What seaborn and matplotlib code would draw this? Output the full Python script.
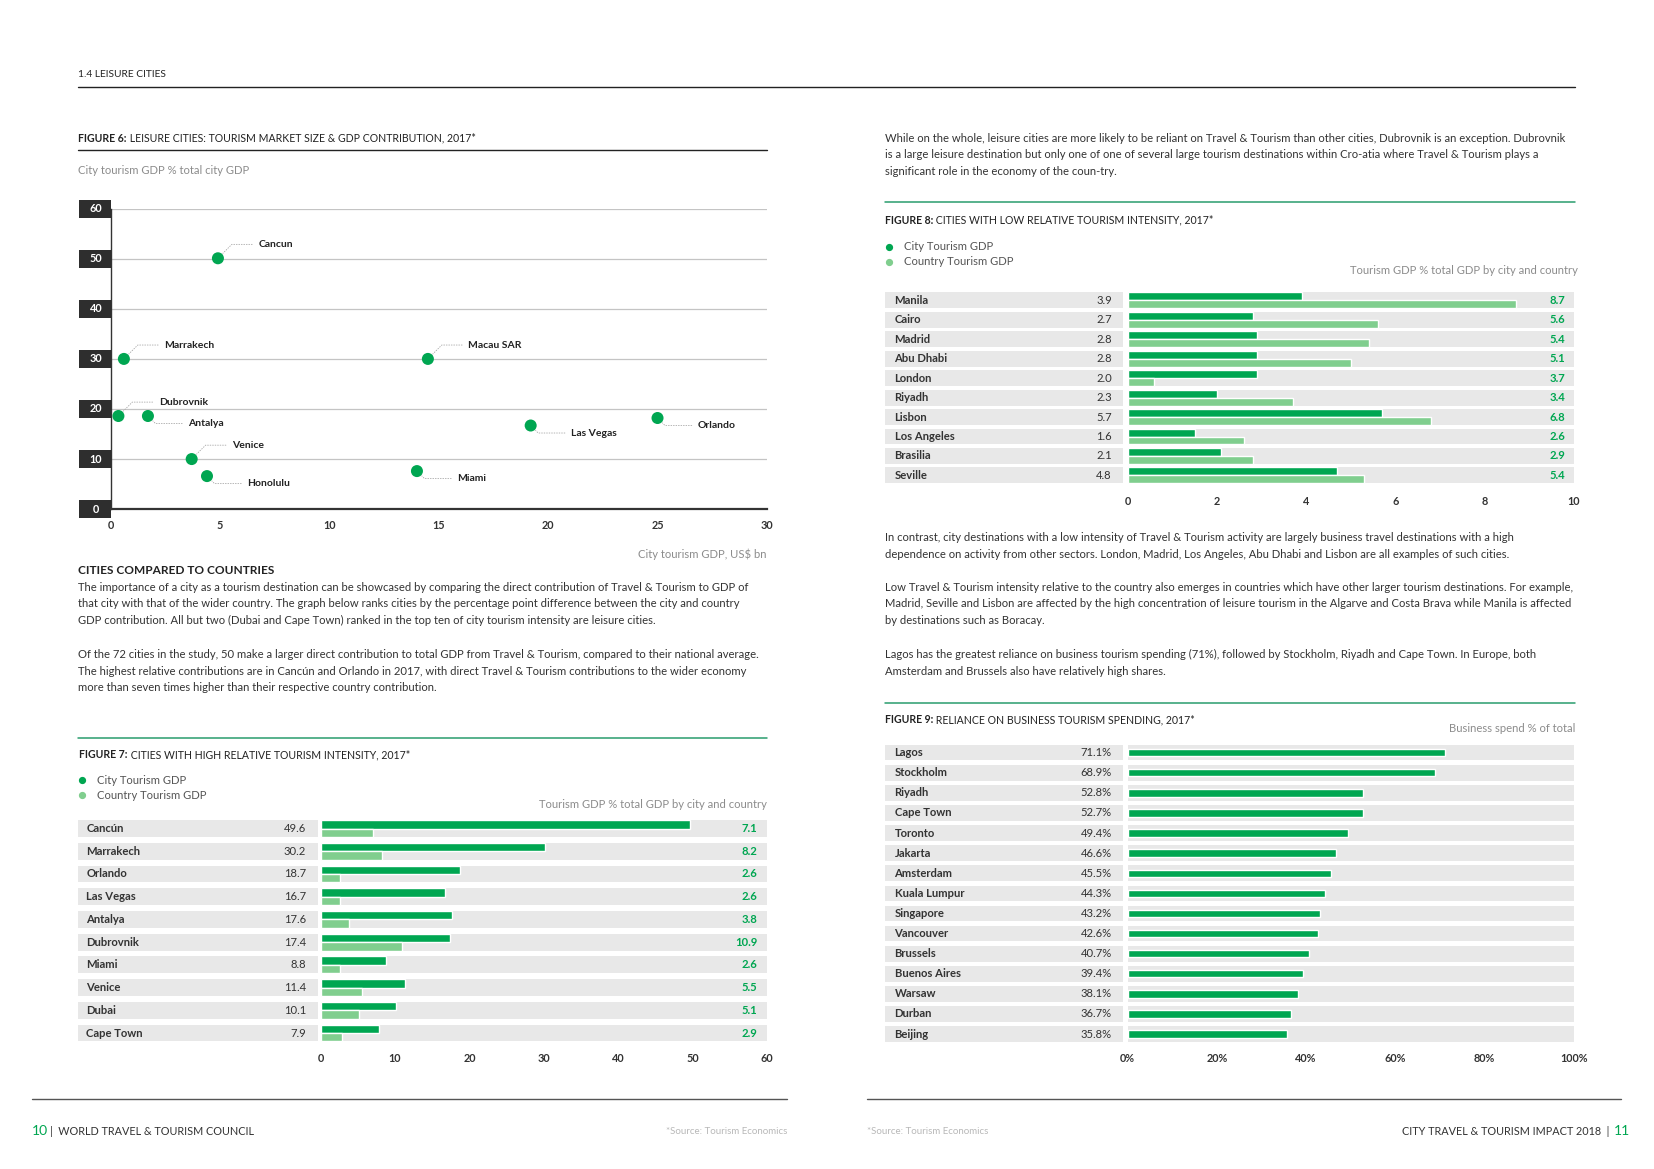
import matplotlib
matplotlib.use('Agg')
import matplotlib.pyplot as plt
import matplotlib.transforms as mtransforms
from matplotlib.patches import Rectangle
import pandas as pd
import seaborn as sns

# ---- data -------------------------------------------------------------
# Figure 6: scatter (city tourism GDP US$ bn vs % of city GDP)
fig6_cities = ['Cancun', 'Marrakech', 'Macau SAR', 'Dubrovnik', 'Antalya',
               'Venice', 'Honolulu', 'Miami', 'Las Vegas', 'Orlando']
fig6_gdp_bn = [4.9, 0.6, 14.5, 0.35, 1.7, 3.7, 4.4, 14.0, 19.2, 25.0]
fig6_gdp_pct = [50.1, 30.0, 30.0, 18.6, 18.6, 10.0, 6.6, 7.6, 16.7, 18.2]
fig6_label_side = ['up', 'up', 'up', 'up', 'down', 'up', 'down', 'down', 'down', 'down']

# Figure 7: high relative tourism intensity
fig7_cities = ['Cancún', 'Marrakech', 'Orlando', 'Las Vegas', 'Antalya',
               'Dubrovnik', 'Miami', 'Venice', 'Dubai', 'Cape Town']
fig7_city = [49.6, 30.2, 18.7, 16.7, 17.6, 17.4, 8.8, 11.4, 10.1, 7.9]
fig7_country = [7.1, 8.2, 2.6, 2.6, 3.8, 10.9, 2.6, 5.5, 5.1, 2.9]

# Figure 8: low relative tourism intensity (bars as drawn, labels as printed)
fig8_cities = ['Manila', 'Cairo', 'Madrid', 'Abu Dhabi', 'London',
               'Riyadh', 'Lisbon', 'Los Angeles', 'Brasilia', 'Seville']
fig8_city_bar = [3.9, 2.8, 2.9, 2.9, 2.9, 2.0, 5.7, 1.5, 2.1, 4.7]
fig8_country_bar = [8.7, 5.6, 5.4, 5.0, 0.6, 3.7, 6.8, 2.6, 2.8, 5.3]
fig8_city_label = ['3.9', '2.7', '2.8', '2.8', '2.0', '2.3', '5.7', '1.6', '2.1', '4.8']
fig8_country_label = ['8.7', '5.6', '5.4', '5.1', '3.7', '3.4', '6.8', '2.6', '2.9', '5.4']

# Figure 9: business spend share
fig9_cities = ['Lagos', 'Stockholm', 'Riyadh', 'Cape Town', 'Toronto', 'Jakarta',
               'Amsterdam', 'Kuala Lumpur', 'Singapore', 'Vancouver', 'Brussels',
               'Buenos Aires', 'Warsaw', 'Durban', 'Beijing']
fig9_share = [71.1, 68.9, 52.8, 52.7, 49.4, 46.6, 45.5, 44.3, 43.2, 42.6,
              40.7, 39.4, 38.1, 36.7, 35.8]

# ---- style ------------------------------------------------------------
sns.set_theme(style='white')
plt.rcParams['font.family'] = ['Lato', 'DejaVu Sans']

GREEN = '#00a651'
LIGHT = '#80ce8e'
BAND = '#e8e8e8'
DARK = '#333333'
GREY = '#8c8c8c'
RULE = '#2a9d6e'

BODY = 8.1
TITLE = 7.6
LABEL = 8.1
TICK = 7.8

W, H = 1568.0, 1109.0  # reference layout grid


def fx(px):
    return px / W


def fy(py):
    return 1 - py / H


fig = plt.figure(figsize=(16.54, 11.69), dpi=100)
renderer = fig.canvas.get_renderer()


def add_axes_px(left, top, right, bottom):
    return fig.add_axes([fx(left), fy(bottom), fx(right) - fx(left), fy(top) - fy(bottom)])


def hline(x0, x1, y, color, lw):
    fig.add_artist(plt.Line2D([fx(x0), fx(x1)], [fy(y), fy(y)], color=color, lw=lw,
                              transform=fig.transFigure))


def ftext(x, y, s, **kw):
    kw.setdefault('fontsize', BODY)
    kw.setdefault('color', DARK)
    kw.setdefault('va', 'center')
    return fig.text(fx(x), fy(y), s, **kw)


def fig_title(x, y, bold, rest):
    t = ftext(x, y, bold, fontsize=TITLE, fontweight='bold', color='#222222')
    bb = t.get_window_extent(renderer)
    fig.text(bb.x1 / fig.bbox.width, fy(y), rest, fontsize=TITLE,
             color='#222222', va='center')


def paragraph(x, y0, lines, step=15.8, **kw):
    for i, line in enumerate(lines):
        ftext(x, y0 + i * step, line, **kw)


def legend(x, y):
    for i, (c, name) in enumerate([(GREEN, 'City Tourism GDP'), (LIGHT, 'Country Tourism GDP')]):
        fig.add_artist(plt.Line2D([fx(x)], [fy(y + i * 14.5)], marker='o', ms=4.2, color=c,
                                  transform=fig.transFigure, lw=0))
        ftext(x + 14, y + i * 14.5, name, color='#555555')


def row_bands(ax, n, band, left_px, right_px, xmax):
    blend = mtransforms.blended_transform_factory(fig.transFigure, ax.transData)
    for i in range(n):
        ax.add_patch(Rectangle((fx(left_px), i - band / 2), fx(right_px) - fx(left_px), band,
                               transform=blend, color=BAND, clip_on=False, lw=0, zorder=0))
    ax.barh(range(n), [xmax] * n, height=band, color=BAND, lw=0, zorder=0)
    return blend


def style_bar_axes(ax, n, xmax, ticks, ticklabels, pad):
    ax.set_xlim(0, xmax)
    ax.set_ylim(n - 0.5, -0.5)
    ax.set_yticks([])
    ax.set_xticks(ticks)
    ax.set_xticklabels(ticklabels)
    ax.tick_params(axis='x', length=0, pad=pad, labelsize=TICK, labelcolor=DARK)
    for lab in ax.get_xticklabels():
        lab.set_fontweight('bold')
    ax.set_xlabel('')
    ax.set_ylabel('')
    for s in ax.spines.values():
        s.set_visible(False)
    ax.patch.set_alpha(0)


# ---- header -----------------------------------------------------------
ftext(74, 71, '1.4 LEISURE CITIES', fontsize=7.4, color='#222222')
hline(74, 1493, 83, '#222222', 1.0)

# ---- Figure 6 ---------------------------------------------------------
fig_title(74, 131, 'FIGURE 6:', ' LEISURE CITIES: TOURISM MARKET SIZE & GDP CONTRIBUTION, 2017*')
hline(74, 727, 142, '#222222', 1.0)
ftext(74, 162, 'City tourism GDP % total city GDP', color=GREY)

ax6 = add_axes_px(105, 198, 727, 483)
df6 = pd.DataFrame({'city': fig6_cities, 'bn': fig6_gdp_bn, 'pct': fig6_gdp_pct})
for v in range(10, 61, 10):
    ax6.axhline(v, color='#c4c4c4', lw=0.9, zorder=0)
sns.scatterplot(data=df6, x='bn', y='pct', ax=ax6, color=GREEN, s=75, edgecolor='none',
                zorder=3, clip_on=False)
ax6.set_xlim(0, 30)
ax6.set_ylim(0, 60)
for s in ['top', 'right']:
    ax6.spines[s].set_visible(False)
ax6.spines['left'].set_color(DARK)
ax6.spines['left'].set_linewidth(1.0)
ax6.spines['bottom'].set_color(DARK)
ax6.spines['bottom'].set_linewidth(1.6)
ax6.set_xticks(range(0, 31, 5))
ax6.tick_params(axis='x', length=0, pad=7.5, labelsize=TICK, labelcolor=DARK)
for lab in ax6.get_xticklabels():
    lab.set_fontweight('bold')
ax6.set_yticks([])
ax6.set_xlabel('')
ax6.set_ylabel('')
ax6.patch.set_alpha(0)

blend6 = mtransforms.blended_transform_factory(fig.transFigure, ax6.transData)
for v in range(0, 61, 10):
    ax6.add_patch(Rectangle((fx(75), v - 1.8), fx(105) - fx(75), 3.6, transform=blend6,
                            color='#2e2e2e', clip_on=False, lw=0, zorder=2))
    ax6.text(fx(91), v, str(v), transform=blend6, ha='center', va='center', color='white',
             fontsize=TICK, fontweight='bold', clip_on=False)

for name, xv, yv, side in zip(fig6_cities, fig6_gdp_bn, fig6_gdp_pct, fig6_label_side):
    dy = 10.0 if side == 'up' else -5.4
    ax6.annotate(name, xy=(xv, yv), xytext=(29, dy), textcoords='offset points',
                 ha='left', va='center', fontsize=7.5, fontweight='bold', color='#222222',
                 arrowprops=dict(arrowstyle='-', color='#a8a8a8', lw=0.6, linestyle=(0, (1, 2)),
                                 shrinkA=2, shrinkB=5, relpos=(0, 0.5),
                                 connectionstyle='angle,angleA=0,angleB=%d'
                                 % (45 if side == 'up' else -45)))

ftext(727, 526, 'City tourism GDP, US$ bn', color=GREY, ha='right')

# ---- left page text ---------------------------------------------------
ftext(74, 541, 'CITIES COMPARED TO COUNTRIES', fontsize=8.6, fontweight='bold', color='#222222')
paragraph(74, 557, [
    'The importance of a city as a tourism destination can be showcased by comparing the direct contribution of Travel & Tourism to GDP of',
    'that city with that of the wider country. The graph below ranks cities by the percentage point difference between the city and country',
    'GDP contribution. All but two (Dubai and Cape Town) ranked in the top ten of city tourism intensity are leisure cities.',
])
paragraph(74, 621, [
    'Of the 72 cities in the study, 50 make a larger direct contribution to total GDP from Travel & Tourism, compared to their national average.',
    'The highest relative contributions are in Cancún and Orlando in 2017, with direct Travel & Tourism contributions to the wider economy',
    'more than seven times higher than their respective country contribution.',
])

# ---- Figure 7 ---------------------------------------------------------
hline(74, 727, 700, RULE, 1.1)
fig_title(75, 716, 'FIGURE 7:', ' CITIES WITH HIGH RELATIVE TOURISM INTENSITY, 2017*')
legend(78, 740)
ftext(727, 763, 'Tourism GDP % total GDP by city and country', color=GREY, ha='right')

sp7 = (980 - 786) / 9
ax7 = add_axes_px(304, 786 - sp7 / 2, 727, 980 + sp7 / 2)
df7 = pd.DataFrame({'city': fig7_cities * 2, 'value': fig7_city + fig7_country,
                    'series': ['City'] * 10 + ['Country'] * 10})
sns.barplot(data=df7, y='city', x='value', hue='series', orient='h', ax=ax7,
            palette=[GREEN, LIGHT], width=0.74, gap=0, saturation=1, legend=False,
            errorbar=None, zorder=2)
blend7 = row_bands(ax7, 10, 0.74, 74, 301, 60)
style_bar_axes(ax7, 10, 60, range(0, 61, 10), [str(v) for v in range(0, 61, 10)], 6.5)
for i, name in enumerate(fig7_cities):
    ax7.text(fx(82), i, name, transform=blend7, ha='left', va='center', fontsize=LABEL,
             fontweight='bold', color=DARK)
    ax7.text(fx(290), i, f'{fig7_city[i]:.1f}', transform=blend7, ha='right', va='center',
             fontsize=LABEL, color=DARK)
    ax7.text(fx(718), i, f'{fig7_country[i]:.1f}', transform=blend7, ha='right', va='center',
             fontsize=LABEL, fontweight='bold', color=GREEN)

# ---- right page text --------------------------------------------------
paragraph(839, 131, [
    'While on the whole, leisure cities are more likely to be reliant on Travel & Tourism than other cities, Dubrovnik is an exception. Dubrovnik',
    'is a large leisure destination but only one of one of several large tourism destinations within Cro-atia where Travel & Tourism plays a',
    'significant role in the economy of the coun-try.',
])

# ---- Figure 8 ---------------------------------------------------------
hline(839, 1493, 192, RULE, 1.1)
fig_title(839, 209, 'FIGURE 8:', ' CITIES WITH LOW RELATIVE TOURISM INTENSITY, 2017*')
legend(843, 234)
ftext(1496, 257, 'Tourism GDP % total GDP by city and country', color=GREY, ha='right')

sp8 = (451 - 285) / 9
ax8 = add_axes_px(1069, 285 - sp8 / 2, 1492, 451 + sp8 / 2)
df8 = pd.DataFrame({'city': fig8_cities * 2, 'value': fig8_city_bar + fig8_country_bar,
                    'series': ['City'] * 10 + ['Country'] * 10})
sns.barplot(data=df8, y='city', x='value', hue='series', orient='h', ax=ax8,
            palette=[GREEN, LIGHT], width=0.82, gap=0, saturation=1, legend=False,
            errorbar=None, zorder=2)
blend8 = row_bands(ax8, 10, 0.82, 839, 1065, 10)
style_bar_axes(ax8, 10, 10, range(0, 11, 2), [str(v) for v in range(0, 11, 2)], 7.5)
for i, name in enumerate(fig8_cities):
    ax8.text(fx(848), i, name, transform=blend8, ha='left', va='center', fontsize=LABEL,
             fontweight='bold', color=DARK)
    ax8.text(fx(1054), i, fig8_city_label[i], transform=blend8, ha='right', va='center',
             fontsize=LABEL, color=DARK)
    ax8.text(fx(1484), i, fig8_country_label[i], transform=blend8, ha='right', va='center',
             fontsize=LABEL, fontweight='bold', color=GREEN)

paragraph(839, 510, [
    'In contrast, city destinations with a low intensity of Travel & Tourism activity are largely business travel destinations with a high',
    'dependence on activity from other sectors. London, Madrid, Los Angeles, Abu Dhabi and Lisbon are all examples of such cities.',
])
paragraph(839, 557, [
    'Low Travel & Tourism intensity relative to the country also emerges in countries which have other larger tourism destinations. For example,',
    'Madrid, Seville and Lisbon are affected by the high concentration of leisure tourism in the Algarve and Costa Brava while Manila is affected',
    'by destinations such as Boracay.',
])
paragraph(839, 621, [
    'Lagos has the greatest reliance on business tourism spending (71%), followed by Stockholm, Riyadh and Cape Town. In Europe, both',
    'Amsterdam and Brussels also have relatively high shares.',
])

# ---- Figure 9 ---------------------------------------------------------
hline(839, 1493, 667, RULE, 1.1)
fig_title(839, 683, 'FIGURE 9:', ' RELIANCE ON BUSINESS TOURISM SPENDING, 2017*')
ftext(1493, 691, 'Business spend % of total', color=GREY, ha='right')

sp9 = (981 - 714) / 14
ax9 = add_axes_px(1069, 714 - sp9 / 2, 1492, 981 + sp9 / 2)
df9 = pd.DataFrame({'city': fig9_cities, 'share': fig9_share})
sns.barplot(data=df9, y='city', x='share', orient='h', ax=ax9, color=GREEN, width=0.37,
            saturation=1, errorbar=None, zorder=2)
blend9 = row_bands(ax9, 15, 0.78, 839, 1065, 100)
style_bar_axes(ax9, 15, 100, range(0, 101, 20), [f'{v}%' for v in range(0, 101, 20)], 6.5)
for i, name in enumerate(fig9_cities):
    ax9.text(fx(848), i, name, transform=blend9, ha='left', va='center', fontsize=LABEL,
             fontweight='bold', color=DARK)
    ax9.text(fx(1054), i, f'{fig9_share[i]:.1f}%', transform=blend9, ha='right', va='center',
             fontsize=LABEL, color=DARK)

# ---- footers ----------------------------------------------------------
hline(30, 746, 1043, '#555555', 1.0)
hline(822, 1537, 1043, '#555555', 1.0)
ftext(30, 1073, '10', fontsize=10, color=GREEN)
ftext(47, 1073, '|  WORLD TRAVEL & TOURISM COUNCIL', fontsize=7.8, color='#333333')
ftext(746, 1073, '*Source: Tourism Economics', fontsize=7.0, color='#b8b8b8', ha='right')
ftext(822, 1073, '*Source: Tourism Economics', fontsize=7.0, color='#b8b8b8')
ftext(1526, 1073, 'CITY TRAVEL & TOURISM IMPACT 2018  |', fontsize=7.8, color='#333333', ha='right')
ftext(1530, 1073, '11', fontsize=10, color=GREEN)

fig.savefig('out.png', dpi=100, facecolor='white')
plt.close(fig)
